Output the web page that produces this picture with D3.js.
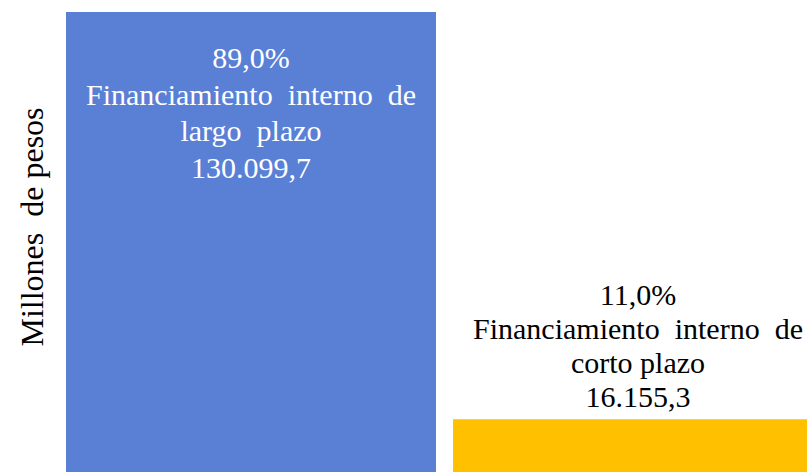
<!DOCTYPE html>
<html>
<head>
<meta charset="utf-8">
<script src="https://cdn.jsdelivr.net/npm/d3@7"></script>
<style>
  body { margin: 0; background: #fff; overflow: hidden; }
  text { white-space: pre; }
</style>
</head>
<body>
<script>
// data
var categories = ["Financiamiento interno de largo plazo", "Financiamiento interno de corto plazo"];
var values = [130099.7, 16155.3];
var shares = ["89,0%", "11,0%"];
var valueLabels = ["130.099,7", "16.155,3"];
var labelLines = [
    ["Financiamiento  interno  de", "largo  plazo"],
    ["Financiamiento  interno  de", "corto plazo"]
];
var colors = ["#5a80d6", "#ffc000"];

var width = 807,
    height = 472,
    font = "'Liberation Serif', Tinos, 'Times New Roman', 'DejaVu Serif', serif";

var svg = d3.select("body").append("svg")
    .attr("width", width)
    .attr("height", height)
    .attr("font-family", font);

// bars: step 387px, gap 17px, second bar runs off the right edge
var x = d3.scaleBand()
    .domain(categories)
    .range([66, 823])
    .paddingInner(17 / 387)
    .paddingOuter(0);

// baseline sits just below the visible area
var y = d3.scaleLinear()
    .domain([0, d3.max(values)])
    .range([477, 12]);

svg.selectAll("rect.bar")
    .data(categories)
    .enter().append("rect")
    .attr("class", "bar")
    .attr("x", function (d) { return x(d); })
    .attr("y", function (d, i) { return y(values[i]); })
    .attr("width", x.bandwidth())
    .attr("height", function (d, i) { return y(0) - y(values[i]); })
    .attr("fill", function (d, i) { return colors[i]; });

// data labels
var lineH = [36.5, 34];
categories.forEach(function (c, i) {
    var lines = [shares[i]].concat(labelLines[i]).concat([valueLabels[i]]);
    var cx = x(c) + x.bandwidth() / 2;
    var top = y(values[i]);
    var first;
    if (i == 0) {
        first = top + 56;           // inside the tall bar
    } else {
        first = top - 12 - lineH[i] * (lines.length - 1); // above the short bar
    }
    var t = svg.append("text")
        .attr("text-anchor", "middle")
        .attr("font-family", font)
        .attr("font-size", 30)
        .attr("fill", i == 0 ? "#ffffff" : "#000000");
    lines.forEach(function (l, k) {
        t.append("tspan")
            .attr("x", cx)
            .attr("y", first + k * lineH[i])
            .text(l);
    });
});

// y axis title
svg.append("text")
    .attr("transform", "translate(43,227) rotate(-90)")
    .attr("text-anchor", "middle")
    .attr("font-family", font)
    .attr("font-size", 32)
    .attr("fill", "#000")
    .text("Millones  de pesos");
</script>
</body>
</html>
